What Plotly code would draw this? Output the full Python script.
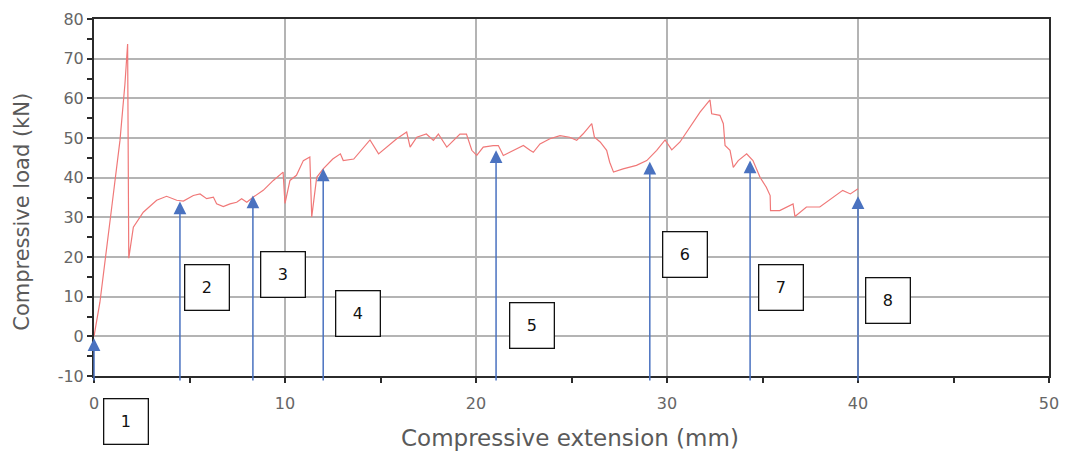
import plotly.graph_objects as go

# Compressive extension (mm) and compressive load (kN)
extension = [0, 0.31, 0.93, 1.36, 1.62, 1.76, 1.82, 2.06, 2.58, 3.28, 3.8, 4.33, 4.68, 5.2, 5.55, 5.9,
             6.25, 6.42, 6.77, 7.12, 7.47, 7.73, 8.0, 8.34, 8.86, 9.39, 9.9, 10.0, 10.26, 10.6, 10.96,
             11.3, 11.4, 11.66, 12.0, 12.5, 12.9, 13.05, 13.6, 14.1, 14.45, 14.9, 15.3, 15.85, 16.37,
             16.55, 16.9, 17.4, 17.77, 18.03, 18.47, 18.8, 19.16, 19.5, 19.78, 20.04, 20.38, 20.9,
             21.17, 21.43, 21.95, 22.48, 22.83, 23.0, 23.35, 23.87, 24.4, 24.9, 25.27, 25.6, 26.06,
             26.2, 26.5, 26.84, 27.0, 27.2, 27.7, 28.4, 28.94, 29.46, 29.9, 30.25, 30.68, 31.2, 31.73,
             32.25, 32.34, 32.77, 32.95, 33.04, 33.3, 33.47, 33.73, 34.17, 34.5, 34.87, 35.2, 35.4,
             35.42, 35.9, 36.27, 36.6, 36.7, 36.96, 37.3, 38.0, 38.5, 39.2, 39.6, 40.0]
load = [0, 8.6, 32.6, 49.4, 63.6, 73.7, 19.7, 27.5, 31.3, 34.3, 35.3, 34.3, 34.1, 35.5, 35.9, 34.7,
        35.1, 33.4, 32.7, 33.4, 33.8, 34.7, 33.8, 35.1, 36.8, 39.3, 41.4, 33.5, 39.3, 40.6, 44.3,
        45.2, 30.1, 40.1, 42.2, 44.7, 46.0, 44.3, 44.7, 47.7, 49.5, 46.0, 47.7, 49.8, 51.5,
        47.7, 50.2, 51.0, 49.4, 51.0, 47.7, 49.4, 51.0, 51.0, 46.9, 45.6, 47.7, 48.1,
        48.1, 45.6, 46.9, 48.1, 46.9, 46.4, 48.5, 49.8, 50.6, 50.2, 49.4, 51.0, 53.6,
        50.2, 49.0, 46.9, 43.9, 41.4, 42.2, 43.1, 44.3, 46.9, 49.5, 47.0, 49.0, 52.7, 56.5,
        59.6, 56.1, 55.7, 53.6, 48.1, 46.9, 42.6, 44.3, 46.0, 44.3, 40.1, 37.6, 35.5,
        31.7, 31.7, 32.6, 33.4, 30.2, 31.3, 32.6, 32.6, 34.3, 36.8, 35.9, 37.2]

# Axis ticks and titles
x_ticks = [0, 10, 20, 30, 40, 50]
x_tick_labels = ["0", "10", "20", "30", "40", "50"]
y_ticks = [-10, 0, 10, 20, 30, 40, 50, 60, 70, 80]
y_tick_labels = ["-10", "0", "10", "20", "30", "40", "50", "60", "70", "80"]
x_title = "Compressive extension (mm)"
y_title = "Compressive load (kN)"

# Marker arrows (x position, tip load) and numbered boxes (label, x, y)
arrow_x = [0, 4.5, 8.32, 12.0, 21.05, 29.1, 34.35, 40.0]
arrow_tip = [-0.5, 34.0, 35.5, 42.3, 46.9, 44.0, 44.3, 35.3]
arrow_base = -11.5
box_labels = ["1", "2", "3", "4", "5", "6", "7", "8"]
box_x = [1.68, 5.92, 9.92, 13.82, 22.93, 30.94, 35.97, 41.57]
box_y = [-21.4, 12.3, 15.5, 5.8, 2.85, 20.65, 12.3, 9.07]

x_range = [0, 50]
y_range = [-10, 80]

fig = go.Figure()
fig.add_trace(go.Scatter(x=extension, y=load, mode="lines",
                         line=dict(color="#f07878", width=1.2), showlegend=False,
                         hoverinfo="skip"))

annotations = []
for xa, yt in zip(arrow_x, arrow_tip):
    annotations.append(dict(x=xa, y=yt, ax=xa, ay=arrow_base, xref="x", yref="y",
                            axref="x", ayref="y", text="", showarrow=True,
                            arrowhead=2, arrowsize=1.7, arrowwidth=1.5,
                            arrowcolor="#4a72c0", standoff=0, startstandoff=0))
for lab, bx, by in zip(box_labels, box_x, box_y):
    annotations.append(dict(x=bx, y=(by - y_range[0]) / (y_range[1] - y_range[0]),
                            xref="x", yref="paper", text=lab, showarrow=False,
                            xanchor="center", yanchor="middle",
                            font=dict(family="DejaVu Sans", size=16, color="#111"),
                            bgcolor="white", bordercolor="#111", borderwidth=1.3,
                            borderpad=1, width=41, height=42, align="center",
                            valign="middle"))
# axis titles
annotations.append(dict(x=0.498, y=-0.174, xref="paper", yref="paper", text=x_title,
                        showarrow=False, xanchor="center", yanchor="middle",
                        font=dict(family="DejaVu Sans", size=23, color="#5a5a5a")))
annotations.append(dict(x=-0.0754, y=0.46, xref="paper", yref="paper", text=y_title,
                        showarrow=False, xanchor="center", yanchor="middle", textangle=-90,
                        font=dict(family="DejaVu Sans", size=21, color="#5a5a5a")))

axis_common = dict(showline=True, linecolor="#2b2b2b", linewidth=2, mirror=True,
                   showgrid=True, gridcolor="#b4b4b4", gridwidth=2, zeroline=False,
                   automargin=False,
                   ticks="outside", ticklen=5, tickwidth=2, tickcolor="#2b2b2b",
                   tickfont=dict(family="DejaVu Sans", size=16, color="#666666"),
                   minor=dict(ticks="outside", ticklen=5, tickwidth=2, tickcolor="#2b2b2b",
                              showgrid=False, dtick=5))

# page body has an 8px margin; size and margins compensate so the plot area lands
# at the reference position
fig.update_layout(
    width=1053, height=447,
    margin=dict(l=86, r=12, t=11, b=79, autoexpand=False),
    paper_bgcolor="white", plot_bgcolor="white",
    annotations=annotations,
    xaxis=dict(range=x_range, tickmode="array", tickvals=x_ticks, ticktext=x_tick_labels,
               ticklabelstandoff=7, **axis_common),
    yaxis=dict(range=y_range, tickmode="array", tickvals=y_ticks, ticktext=y_tick_labels,
               ticklabelstandoff=0, **axis_common),
)

fig.write_html("out.html")
